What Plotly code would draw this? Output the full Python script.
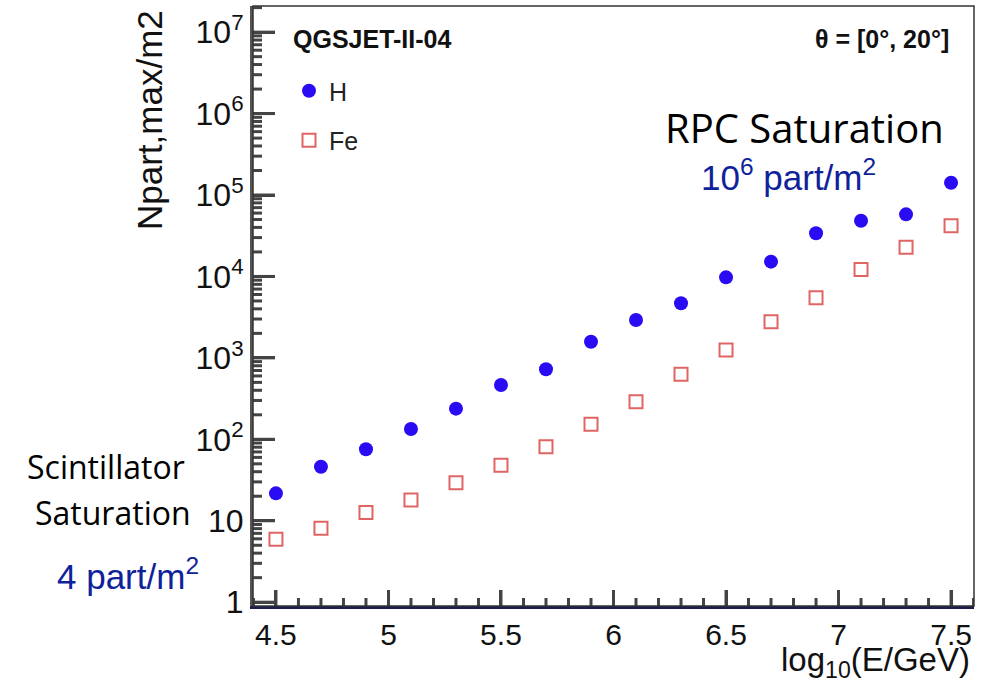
import math
import plotly.graph_objects as go

# ---- data ----
log_e = [4.5, 4.7, 4.9, 5.1, 5.3, 5.5, 5.7, 5.9, 6.1, 6.3, 6.5, 6.7, 6.9, 7.1, 7.3, 7.5]
h_vals = [21.7, 46.1, 75.4, 134, 238, 464, 724, 1580, 2920, 4680, 9750,
          15200, 33900, 48300, 57900, 141500]
fe_vals = [5.92, 8.08, 12.6, 18.0, 29.3, 48.0, 81.2, 153, 290, 628, 1250,
           2780, 5480, 12200, 22800, 42000]
series_names = ["H", "Fe"]
y_tick_vals = [1, 10, 100, 1000, 10000, 100000, 1000000, 10000000]
y_tick_text = ["1", "10", "10<sup>2</sup>", "10<sup>3</sup>", "10<sup>4</sup>",
               "10<sup>5</sup>", "10<sup>6</sup>", "10<sup>7</sup>"]
x_tick_vals = [4.5, 5, 5.5, 6, 6.5, 7, 7.5]
x_tick_text = ["4.5", "5", "5.5", "6", "6.5", "7", "7.5"]
y_title = "Npart,max/m2"
x_title = "log<sub>10</sub>(E/GeV)"

W, H = 998, 694
L, R, T, B = 253, 974, 6, 606
X_RANGE = [4.398, 7.602]
Y_RANGE = [-0.047, 7.321]


def px(x):
    return (x - L) / (R - L)


def py(y):
    return 1 - (y - T) / (B - T)


fig = go.Figure()
fig.add_trace(go.Scatter(
    x=log_e, y=h_vals, mode="markers", name=series_names[0], legendgroup="g1",
    marker=dict(symbol="circle", size=14, color="#2a0cf2", line=dict(width=0)),
))
fig.add_trace(go.Scatter(
    x=log_e, y=fe_vals, mode="markers", name=series_names[1], legendgroup="g2",
    marker=dict(symbol="square-open", size=13, color="#e06464", line=dict(width=2, color="#e06464")),
))

minor_y = [m * v for v in y_tick_vals for m in range(2, 10)]
minor_x = [round(4.4 + 0.1 * i, 2) for i in range(0, 33)]
minor_x = [v for v in minor_x if v not in x_tick_vals and X_RANGE[0] < v < X_RANGE[1]]

# tick marks drawn as axis-relative shapes (ROOT style, inside)
shapes = []
tick_col = "#444"
tick_w = 3
for v in x_tick_vals:
    shapes.append(dict(type="line", xref="x", yref="paper", x0=v, x1=v, y0=0, y1=16 / (B - T),
                       line=dict(color=tick_col, width=tick_w)))
for v in minor_x:
    shapes.append(dict(type="line", xref="x", yref="paper", x0=v, x1=v, y0=0, y1=8 / (B - T),
                       line=dict(color=tick_col, width=tick_w)))


def ypaper(v):
    return (math.log10(v) - Y_RANGE[0]) / (Y_RANGE[1] - Y_RANGE[0])


for v in y_tick_vals:
    yp = ypaper(v)
    if 0 <= yp <= 1:
        shapes.append(dict(type="line", xref="paper", yref="paper", x0=0, x1=22 / (R - L), y0=yp, y1=yp,
                           line=dict(color=tick_col, width=tick_w)))
for v in minor_y:
    yp = ypaper(v)
    if 0 <= yp <= 1:
        shapes.append(dict(type="line", xref="paper", yref="paper", x0=0, x1=9 / (R - L), y0=yp, y1=yp,
                           line=dict(color=tick_col, width=tick_w)))
shapes.append(dict(type="rect", xref="paper", yref="paper", x0=0, y0=0, x1=1, y1=1,
                   line=dict(color="#333", width=1.5)))

fig.update_layout(
    width=W, height=H,
    margin=dict(l=L, r=W - R, t=T, b=H - B),
    plot_bgcolor="white", paper_bgcolor="white",
    font=dict(family="Liberation Sans, Arial, sans-serif", color="#111"),
    showlegend=True,
    legend=dict(
        x=px(289), y=py(68), xanchor="left", yanchor="top",
        bgcolor="rgba(0,0,0,0)", font=dict(size=25, color="#222"),
        tracegroupgap=14, traceorder="grouped", itemwidth=30,
    ),
    xaxis=dict(
        range=X_RANGE, tickmode="array", tickvals=x_tick_vals, ticktext=x_tick_text,
        ticks="inside", ticklen=16, tickwidth=tick_w, tickcolor=tick_col,
        showgrid=False, zeroline=False,
        showline=True, linecolor="#1c1c4e", linewidth=3,
        tickfont=dict(size=30, color="#111"),
    ),
    yaxis=dict(
        type="log", range=Y_RANGE, tickmode="array", tickvals=y_tick_vals,
        ticktext=y_tick_text, ticks="inside", ticklen=22, tickwidth=tick_w, tickcolor=tick_col,
        showgrid=False, zeroline=False,
        showline=True, linecolor="#555", linewidth=3,
        tickfont=dict(size=32, color="#111"),
    ),
    shapes=shapes,
)

ann = []
ann.append(dict(text="<b>QGSJET-II-04</b>", x=px(291), y=py(39), xanchor="left", yanchor="middle",
                font=dict(size=25, color="#111")))
ann.append(dict(text="<b>θ = [0°, 20°]</b>", x=px(951), y=py(39), xanchor="right", yanchor="middle",
                font=dict(size=25, color="#111")))
ann.append(dict(text="RPC Saturation", x=px(804), y=py(127), xanchor="center", yanchor="middle",
                font=dict(size=40, color="#000", family="Open Sans")))
ann.append(dict(text="10<sup>6</sup> part/m<sup>2</sup>", x=px(788), y=py(175), xanchor="center",
                yanchor="middle", font=dict(size=35, color="#10229a")))
ann.append(dict(text="Scintillator", x=px(106), y=py(466), xanchor="center", yanchor="middle",
                font=dict(size=32, color="#000", family="Open Sans")))
ann.append(dict(text="Saturation", x=px(113), y=py(512), xanchor="center", yanchor="middle",
                font=dict(size=32, color="#000", family="Open Sans")))
ann.append(dict(text="4 part/m<sup>2</sup>", x=px(128), y=py(574), xanchor="center", yanchor="middle",
                font=dict(size=35, color="#10229a")))
ann.append(dict(text=x_title, x=px(972), y=py(662), xanchor="right", yanchor="middle",
                font=dict(size=33, color="#111")))
ann.append(dict(text=y_title, x=px(150), y=py(8), xanchor="center", yanchor="top", textangle=-90,
                font=dict(size=35, color="#111")))
for a in ann:
    a.update(xref="paper", yref="paper", showarrow=False)
fig.update_layout(annotations=ann)

fig.write_html("out.html")
